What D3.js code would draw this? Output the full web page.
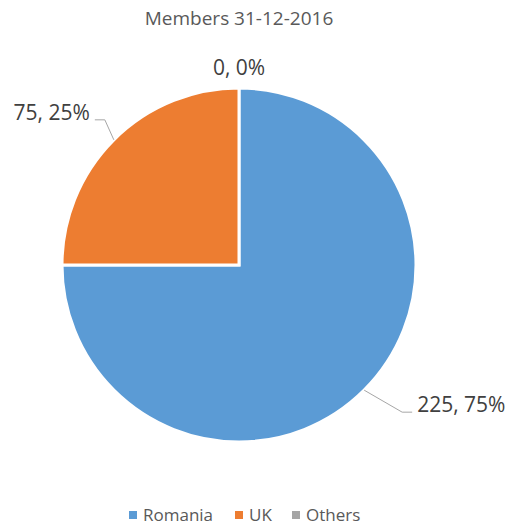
<!DOCTYPE html>
<html>
<head>
<meta charset="utf-8">
<script src="https://cdn.jsdelivr.net/npm/d3@7"></script>
<style>
  body { margin: 0; background: #fff; }
  text { font-family: "Open Sans", sans-serif; }
</style>
</head>
<body>
<div id="chart"></div>
<script>
const categories = ["Romania", "UK", "Others"];
const members = [225, 75, 0];
const colors = ["#5b9bd5", "#ed7d31", "#a5a5a5"];

// label placement: leader bend offset from the slice edge (dx, dy), label side
const labelLayout = [
    {dx: 38, dy: 22, anchor: "start"},
    {dx: -9, dy: -20, anchor: "end"},
    {dx: 0, dy: -13, anchor: "middle", noLine: true}
];

const width = 508, height = 525;
const cx = 239, cy = 265, radius = 177;

const svg = d3.select("#chart")
    .append("svg")
        .attr("width", width)
        .attr("height", height);

// title
svg.append("text")
    .attr("x", 239)
    .attr("y", 25)
    .attr("text-anchor", "middle")
    .style("font-size", "19px")
    .style("fill", "#595959")
    .text("Members 31-12-2016");

const data = categories.map((c, i) => ({name: c, value: members[i], i: i}));
const total = d3.sum(members);

const pie = d3.pie().sort(null).value(d => d.value);
const arcs = pie(data);

const arc = d3.arc().innerRadius(0).outerRadius(radius);

const g = svg.append("g")
    .attr("transform", `translate(${cx},${cy})`);

g.selectAll("path")
    .data(arcs.filter(d => d.data.value > 0))
    .join("path")
        .attr("d", arc)
        .attr("fill", d => colors[d.data.i])
        .attr("stroke", "#fff")
        .attr("stroke-width", 3)
        .attr("stroke-linejoin", "miter");

// data labels with leader lines
arcs.forEach(function(d) {
    const lay = labelLayout[d.data.i];
    const mid = (d.startAngle + d.endAngle) / 2;
    const px = Math.sin(mid) * radius, py = -Math.cos(mid) * radius;
    const bx = px + lay.dx, by = py + lay.dy;
    const txt = d.data.value + ", " + Math.round(d.data.value / total * 100) + "%";
    if (!lay.noLine) {
        const ex = bx + (lay.anchor == "start" ? 10 : -10);
        g.append("polyline")
            .attr("points", `${px},${py} ${bx},${by} ${ex},${by}`)
            .attr("fill", "none")
            .attr("stroke", "#a6a6a6")
            .attr("stroke-width", 1);
        g.append("text")
            .attr("x", ex + (lay.anchor == "start" ? 5 : -5))
            .attr("y", by)
            .attr("text-anchor", lay.anchor)
            .style("font-size", "21px")
            .style("fill", "#404040")
            .text(txt);
    } else {
        g.append("text")
            .attr("x", bx)
            .attr("y", by)
            .attr("text-anchor", "middle")
            .style("font-size", "21px")
            .style("fill", "#404040")
            .text(txt);
    }
});

// legend
const legendX = [129, 235, 292];
const legend = svg.selectAll(".legend")
    .data(data)
    .join("g")
        .attr("class", "legend")
        .attr("transform", (d, i) => `translate(${legendX[i]},515)`);

legend.append("rect")
    .attr("x", 0)
    .attr("y", -4)
    .attr("width", 8)
    .attr("height", 8)
    .attr("fill", d => colors[d.i]);

legend.append("text")
    .attr("x", 14)
    .attr("y", 6)
    .style("font-size", "17px")
    .style("fill", "#595959")
    .text(d => d.name);
</script>
</body>
</html>
